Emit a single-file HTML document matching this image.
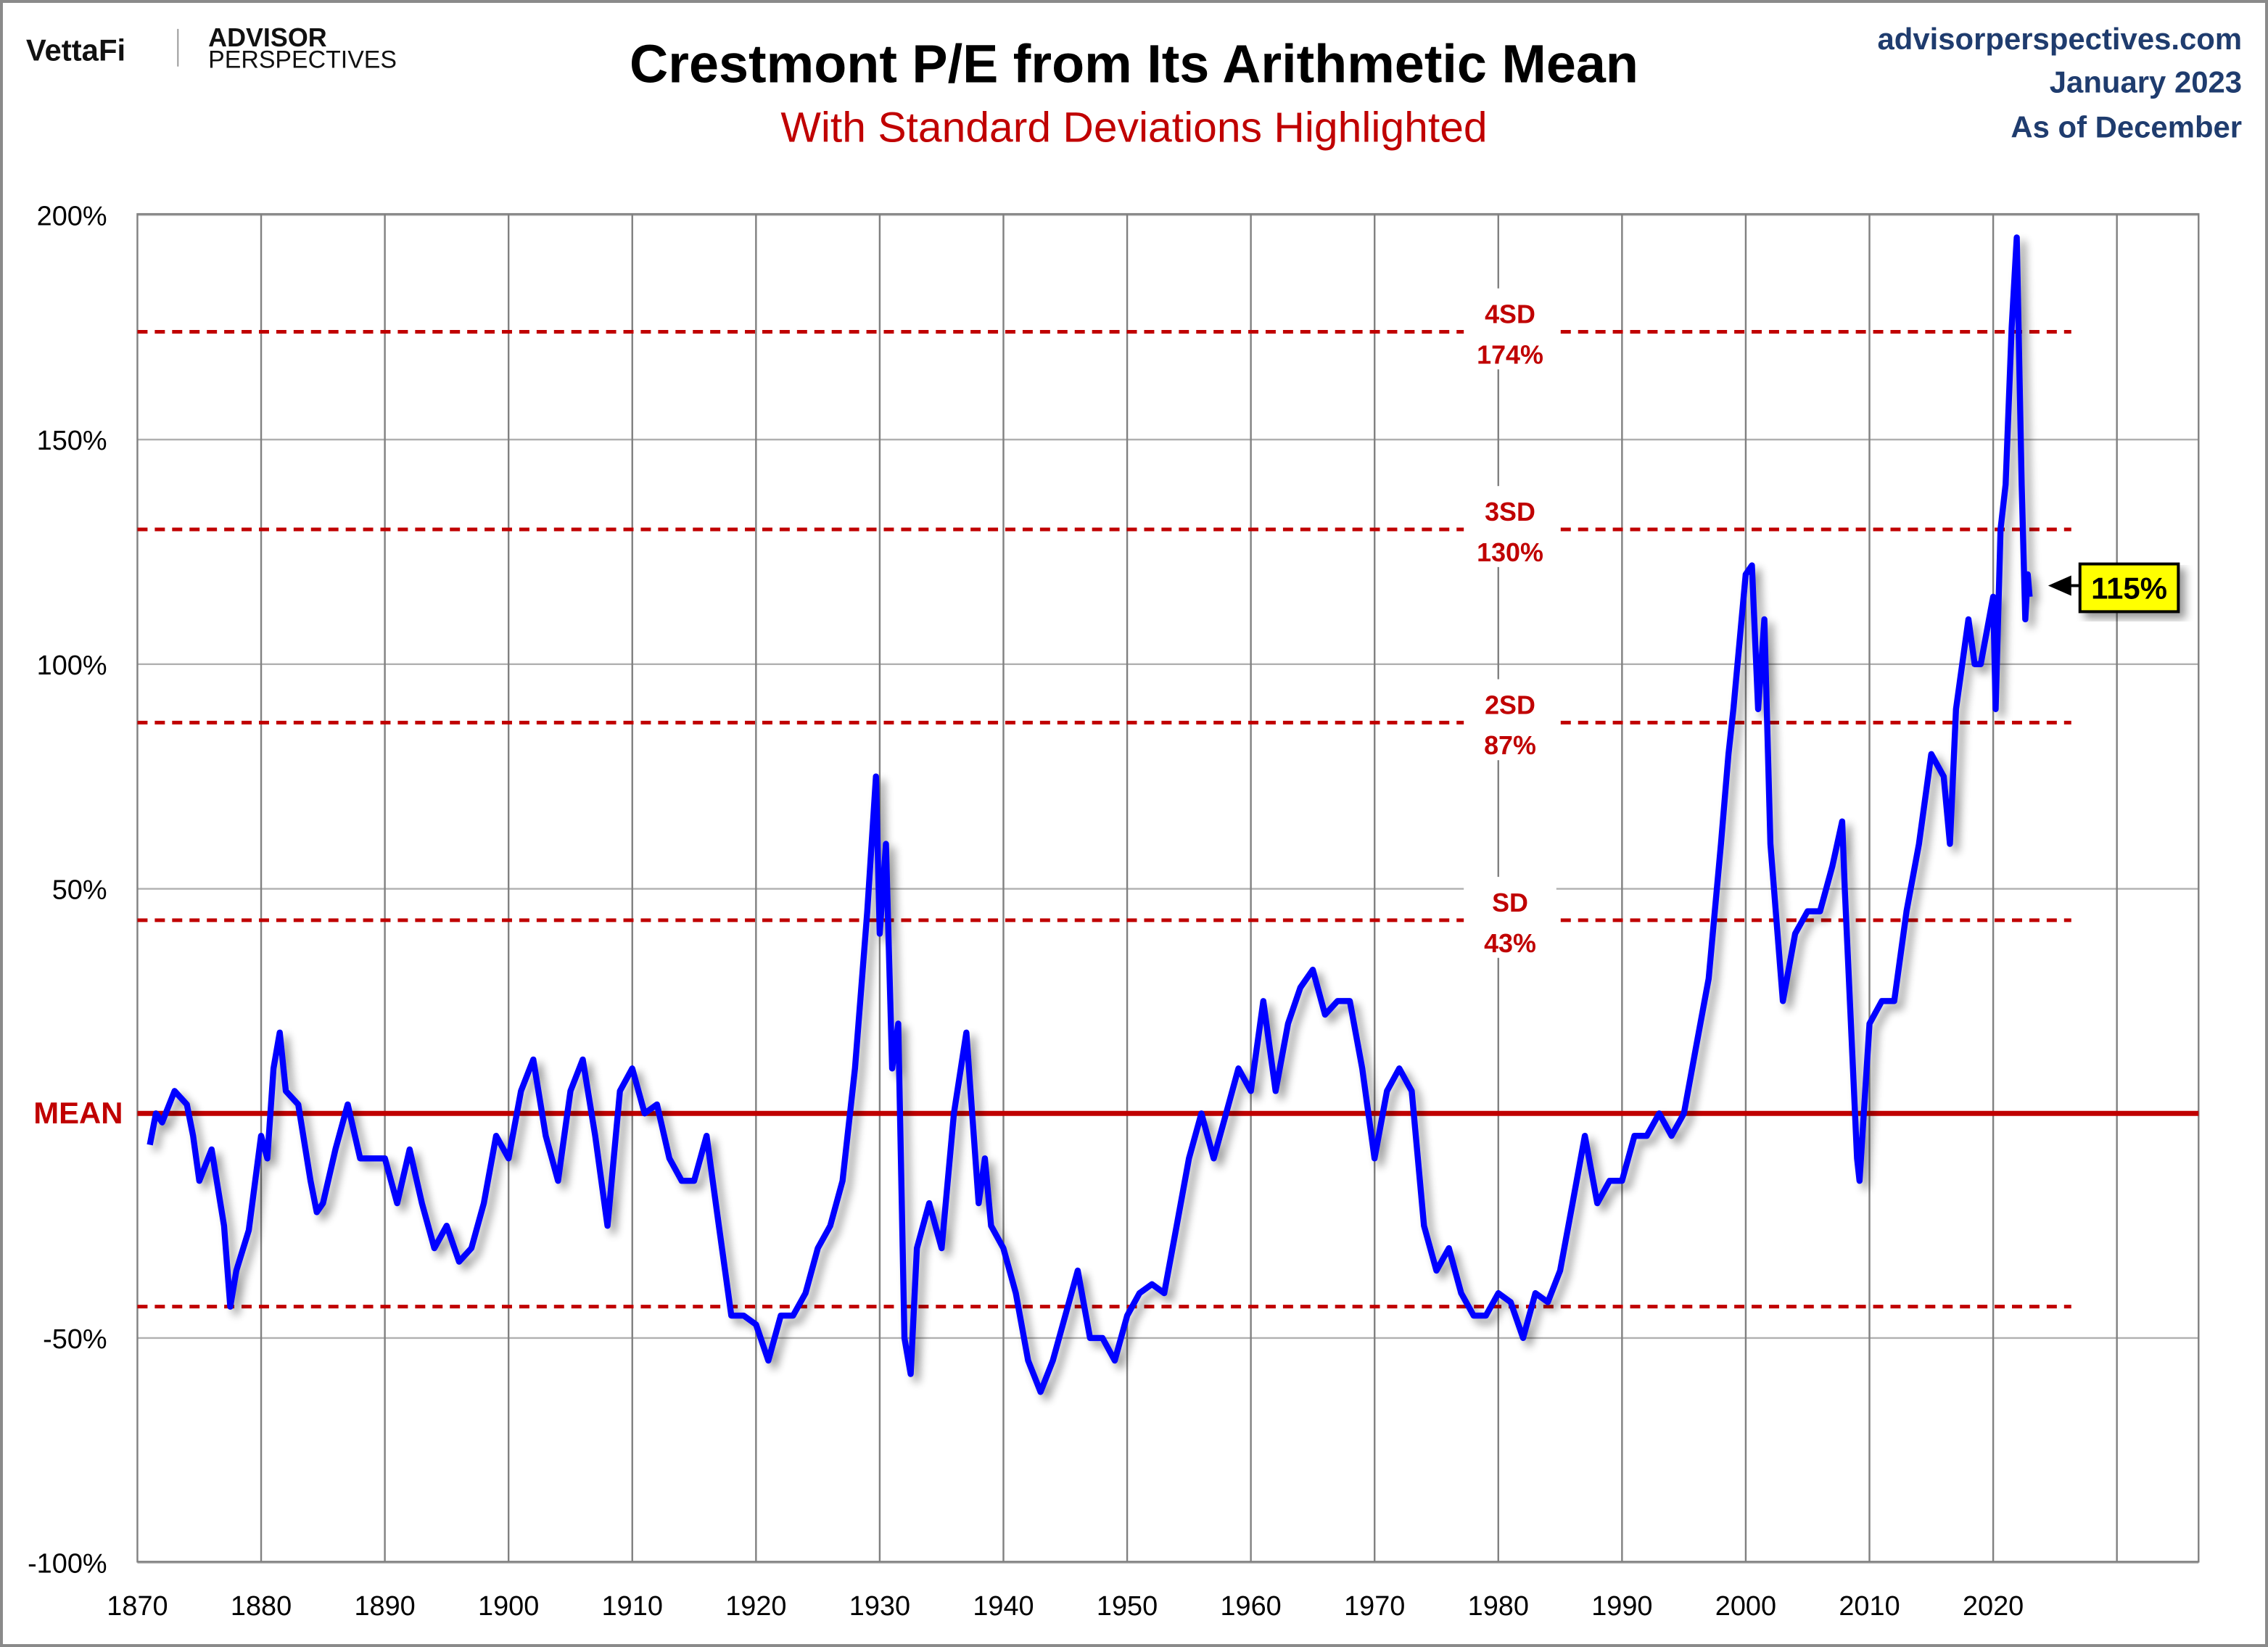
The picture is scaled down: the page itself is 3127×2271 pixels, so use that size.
<!DOCTYPE html>
<html><head><meta charset="utf-8"><style>
html,body{margin:0;padding:0;background:#fff}
svg{display:block}
text{font-family:"Liberation Sans",sans-serif}
</style></head><body>
<svg id="chart" width="3127" height="2271" viewBox="0 0 1568 1139" preserveAspectRatio="none" xmlns="http://www.w3.org/2000/svg">
<defs><filter id="sh" x="-10%" y="-10%" width="130%" height="130%"><feGaussianBlur in="SourceAlpha" stdDeviation="3"/><feOffset dx="4" dy="4"/><feComponentTransfer><feFuncA type="linear" slope="0.4"/></feComponentTransfer><feMerge><feMergeNode/><feMergeNode in="SourceGraphic"/></feMerge></filter></defs>
<rect x="1" y="1" width="1566" height="1137" fill="#fff" stroke="#8a8a8a" stroke-width="2"/>
<g>
<text x="18" y="42" font-size="21" font-weight="bold" fill="#111">VettaFi</text>
<line x1="123" y1="20" x2="123" y2="46" stroke="#999" stroke-width="1"/>
<text x="144" y="32" font-size="18" font-weight="bold" fill="#111">ADVISOR</text>
<text x="144" y="47" font-size="17" fill="#111">PERSPECTIVES</text>
</g>
<text x="784" y="57" font-size="37" font-weight="bold" text-anchor="middle" fill="#000">Crestmont P/E from Its Arithmetic Mean</text>
<text x="784" y="98" font-size="29.5" text-anchor="middle" fill="#c00000">With Standard Deviations Highlighted</text>
<g font-size="21" font-weight="bold" fill="#1f3c6e" text-anchor="end">
<text x="1550" y="34">advisorperspectives.com</text>
<text x="1550" y="64">January 2023</text>
<text x="1550" y="95">As of December</text>
</g>
<g id="grid"></g>
<g id="axes"></g>
<g id="sd"></g>
<g id="series" filter="url(#sh)"></g>
<g>
<polygon points="1416,405 1432,398 1432,412" fill="#000"/>
<line x1="1430" y1="405" x2="1438" y2="405" stroke="#000" stroke-width="2"/>
<rect x="1438" y="390" width="68" height="33" fill="#ffff00" stroke="#000" stroke-width="2" filter="url(#sh)"/>
<text x="1472" y="414" font-size="21" font-weight="bold" text-anchor="middle" fill="#000">115%</text>
</g>
</svg>
<script>
const yearsData=[1871,1871.5,1872,1873,1874,1874.5,1875,1876,1877,1877.5,1878,1879,1880,1880.5,1881,1881.5,1882,1883,1884,1884.5,1885,1886,1887,1888,1889,1890,1891,1892,1893,1894,1895,1896,1897,1898,1899,1900,1901,1902,1903,1904,1905,1906,1907,1908,1909,1910,1911,1912,1913,1914,1915,1916,1917,1918,1919,1920,1921,1922,1923,1924,1925,1926,1927,1928,1929,1929.7,1930,1930.5,1931,1931.5,1932,1932.5,1933,1934,1935,1936,1937,1938,1938.5,1939,1940,1941,1942,1943,1944,1945,1946,1947,1948,1949,1950,1951,1952,1953,1954,1955,1956,1957,1958,1959,1960,1961,1962,1963,1964,1965,1966,1967,1968,1969,1970,1971,1972,1973,1974,1975,1976,1977,1978,1979,1980,1981,1982,1983,1984,1985,1986,1987,1988,1989,1990,1991,1992,1993,1994,1995,1996,1997,1998,1998.6,1999,2000,2000.5,2001,2001.5,2002,2003,2004,2005,2006,2007,2007.8,2008,2009,2009.2,2010,2011,2012,2013,2014,2015,2016,2016.5,2017,2018,2018.5,2019,2020,2020.2,2020.6,2021,2021.5,2021.9,2022.3,2022.6,2022.8,2022.95];
const peValues=[-7,0,-2,5,2,-5,-15,-8,-25,-43,-35,-26,-5,-10,10,18,5,2,-15,-22,-20,-8,2,-10,-10,-10,-20,-8,-20,-30,-25,-33,-30,-20,-5,-10,5,12,-5,-15,5,12,-5,-25,5,10,0,2,-10,-15,-15,-5,-25,-45,-45,-47,-55,-45,-45,-40,-30,-25,-15,10,45,75,40,60,10,20,-50,-58,-30,-20,-30,0,18,-20,-10,-25,-30,-40,-55,-62,-55,-45,-35,-50,-50,-55,-45,-40,-38,-40,-25,-10,0,-10,0,10,5,25,5,20,28,32,22,25,25,10,-10,5,10,5,-25,-35,-30,-40,-45,-45,-40,-42,-50,-40,-42,-35,-20,-5,-20,-15,-15,-5,-5,0,-5,0,15,30,60,80,90,120,122,90,110,60,25,40,45,45,55,65,50,-10,-15,20,25,25,45,60,80,75,60,90,110,100,100,115,90,130,140,175,195,140,110,120,115];
const yTicks=[200,150,100,50,0,-50,-100];
const yTickLabels=["200%","150%","100%","50%","MEAN","-50%","-100%"];
const xTicks=[1870,1880,1890,1900,1910,1920,1930,1940,1950,1960,1970,1980,1990,2000,2010,2020,2030];
const sdLevels=[174,130,87,43,-43];
const sdNames=["4SD","3SD","2SD","SD",""];
const NS="http://www.w3.org/2000/svg";
const L=95,R=1520,T=148,B=1080;
const x=yr=>L+(yr-1870)*(1378-95)/150;
const y=v=>770-(v/50)*155.333;
function mk(tag,attrs,parent,txt){const e=document.createElementNS(NS,tag);for(const k in attrs)e.setAttribute(k,attrs[k]);if(txt!==undefined)e.textContent=txt;parent.appendChild(e);return e;}
const grid=document.getElementById('grid'),axes=document.getElementById('axes'),sd=document.getElementById('sd'),series=document.getElementById('series');




yTicks.forEach((v,i)=>{
 if(v!==0){const g=mk('line',{x1:L,x2:R,y1:y(v),y2:y(v),stroke:'#b0b0b0','stroke-width':1.2},grid);
 }
 const isMean=v===0;
 const t=mk('text',{x:isMean?85:74,y:y(v)+7,'font-size':isMean?21:19,'text-anchor':'end','font-weight':isMean?'bold':'normal',fill:isMean?'#c00000':'#000'},axes,yTickLabels[i]);
 
});
xTicks.forEach(yr=>{
 if(yr>1870){const g=mk('line',{x1:x(yr),x2:x(yr),y1:T,y2:B,stroke:'#808080','stroke-width':1.2},grid);
 }
 if(yr<2030){const t=mk('text',{x:x(yr),y:1117,'font-size':19,'text-anchor':'middle',fill:'#000'},axes,String(yr));
 }
});
const bx=mk('rect',{x:L,y:T,width:R-L,height:B-T,fill:'none',stroke:'#808080','stroke-width':1.2},grid);

sdLevels.forEach((v,i)=>{
 const l=mk('line',{x1:L,x2:1432,y1:y(v),y2:y(v),stroke:'#c00000','stroke-width':2.5,'stroke-dasharray':'7,5'},sd);
 
 if(sdNames[i]){
  const r=mk('rect',{x:1012,y:y(v)-30,width:64,height:56,fill:'#fff'},sd);
  
  const t1=mk('text',{x:1044,y:y(v)-6,'font-size':18,'font-weight':'bold','text-anchor':'middle',fill:'#c00000'},sd,sdNames[i]);
  
  const t2=mk('text',{x:1044,y:y(v)+22,'font-size':18,'font-weight':'bold','text-anchor':'middle',fill:'#c00000'},sd,v+'%');
  
 }
});
const ml=mk('line',{x1:L,x2:R,y1:y(0),y2:y(0),stroke:'#c00000','stroke-width':3.5},sd);

const pts=yearsData.map((yr,i)=>x(yr).toFixed(1)+','+y(peValues[i]).toFixed(1)).join(' ');
const pl=mk('polyline',{points:pts,fill:'none',stroke:'#0000ff','stroke-width':4.2,'stroke-linejoin':'round'},series);

</script>
</body></html>
